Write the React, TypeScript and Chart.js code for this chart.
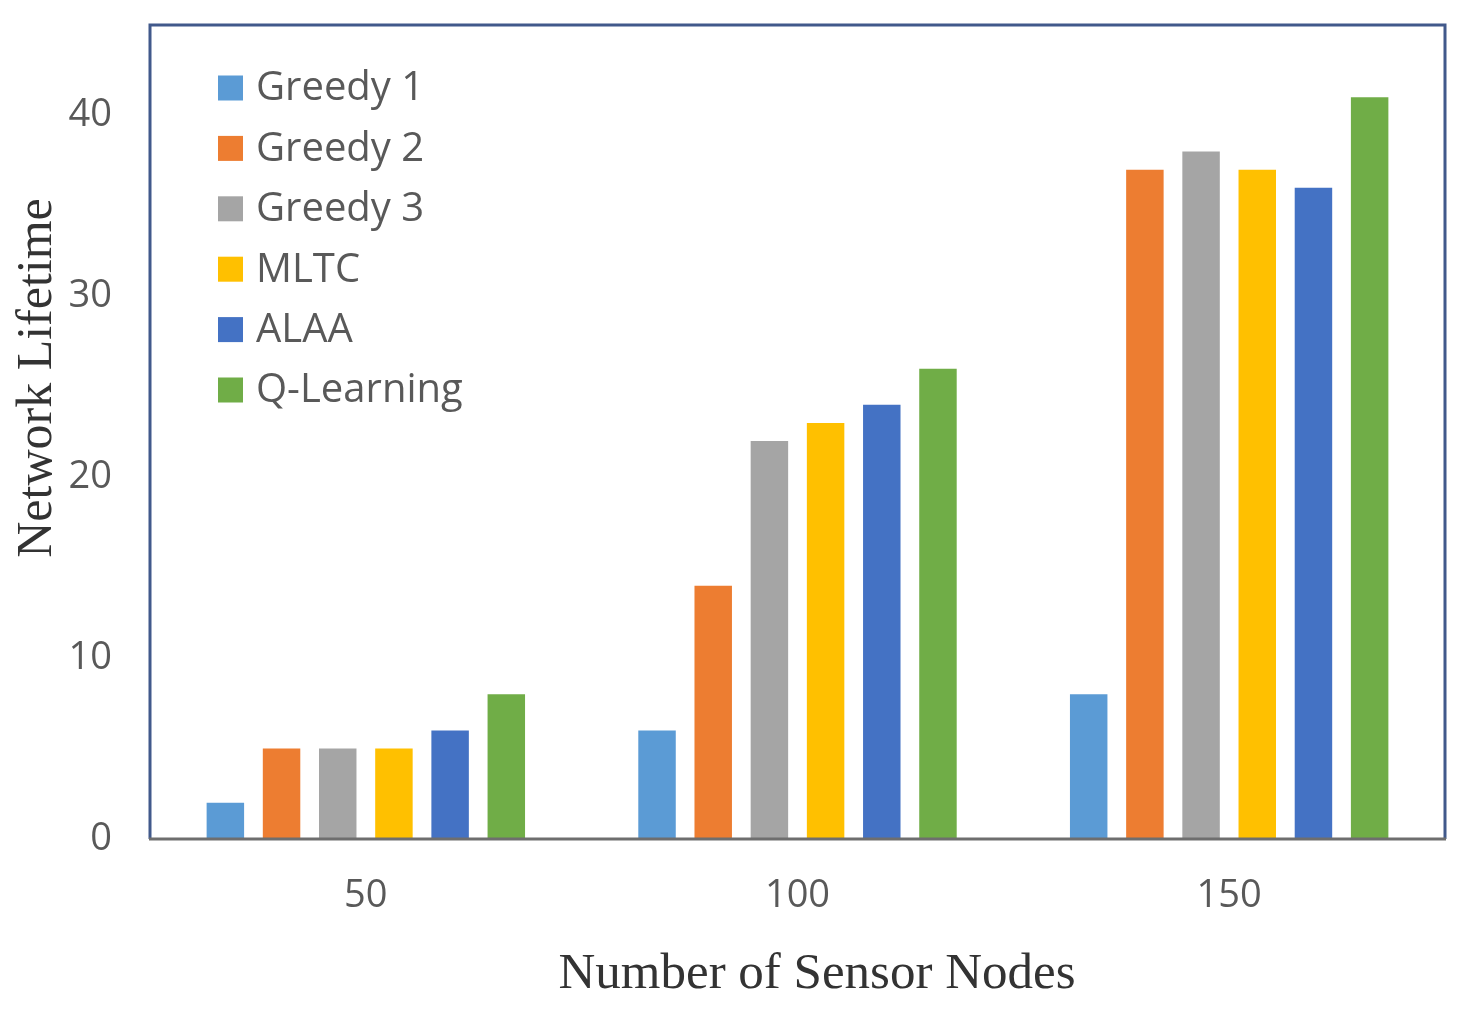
import React, { useEffect, useRef } from "react";
import { Chart, registerables } from "chart.js";

Chart.register(...registerables);

const categories = ["50", "100", "150"];
const seriesNames = ["Greedy 1", "Greedy 2", "Greedy 3", "MLTC", "ALAA", "Q-Learning"];
const greedy1 = [2, 6, 8];
const greedy2 = [5, 14, 37];
const greedy3 = [5, 22, 38];
const mltc = [5, 23, 37];
const alaa = [6, 24, 36];
const qLearning = [8, 26, 41];
const seriesColors = ["#5B9BD5", "#ED7D31", "#A5A5A5", "#FFC000", "#4472C4", "#70AD47"];
const yTicks = [0, 10, 20, 30, 40];
const yTitle = "Network Lifetime";
const xTitle = "Number of Sensor Nodes";

const TICK_FONT = "'Open Sans', Lato, sans-serif";
const SERIF = "'Liberation Serif', 'DejaVu Serif', serif";

const decorPlugin = {
  id: "decor",
  afterDatasetsDraw(chart: any) {
    const { ctx, chartArea } = chart;
    const { left, right, top, bottom } = chartArea;
    ctx.save();
    ctx.strokeStyle = "#41598B";
    ctx.lineWidth = 3;
    ctx.beginPath();
    ctx.moveTo(left, bottom);
    ctx.lineTo(left, top);
    ctx.lineTo(right, top);
    ctx.lineTo(right, bottom);
    ctx.stroke();
    ctx.strokeStyle = "#6E6E6E";
    ctx.lineWidth = 3;
    ctx.beginPath();
    ctx.moveTo(left - 1, bottom);
    ctx.lineTo(right + 1, bottom);
    ctx.stroke();

    ctx.font = `40px ${TICK_FONT}`;
    ctx.textBaseline = "middle";
    ctx.textAlign = "left";
    chart.data.datasets.forEach((ds: any, i: number) => {
      const cy = 88 + i * 60.4;
      ctx.fillStyle = ds.backgroundColor;
      ctx.fillRect(218, cy - 12.5, 25, 25);
      ctx.fillStyle = "#595959";
      ctx.fillText(ds.label, 256, cy + 1);
    });

    ctx.fillStyle = "#333333";
    ctx.font = `50px ${SERIF}`;
    ctx.textAlign = "center";
    ctx.textBaseline = "middle";
    ctx.save();
    ctx.translate(38, 378);
    ctx.rotate(-Math.PI / 2);
    ctx.fillText(yTitle, 0, 0);
    ctx.restore();
    ctx.font = `51px ${SERIF}`;
    ctx.fillText(xTitle, 817, 975);
    ctx.restore();
  },
};

export default function App() {
  const ref = useRef<HTMLCanvasElement>(null);
  useEffect(() => {
    document.body.style.margin = "0";
    const values = [greedy1, greedy2, greedy3, mltc, alaa, qLearning];
    const chart = new Chart(ref.current as HTMLCanvasElement, {
      type: "bar",
      data: {
        labels: categories,
        datasets: seriesNames.map((name, i) => ({
          label: name,
          data: values[i],
          backgroundColor: seriesColors[i],
          borderWidth: 0,
          categoryPercentage: 0.781,
          barPercentage: 0.667,
        })),
      },
      options: {
        animation: false,
        responsive: false,
        maintainAspectRatio: false,
        layout: { padding: { left: 0, top: 25, right: 29, bottom: 0 } },
        plugins: { legend: { display: false }, tooltip: { enabled: false } },
        scales: {
          x: {
            grid: { display: false, drawTicks: false },
            border: { display: false },
            ticks: { color: "#595959", font: { size: 38, family: TICK_FONT }, padding: 34 },
            afterFit: (s: any) => {
              s.height = 184;
              s.paddingLeft = 0;
              s.paddingRight = 0;
            },
          },
          y: {
            min: 0,
            max: 45,
            grid: { display: false, drawTicks: false },
            border: { display: false },
            afterBuildTicks: (s: any) => { s.ticks = yTicks.map((v) => ({ value: v })); },
            ticks: { color: "#595959", font: { size: 38, family: TICK_FONT }, padding: 38 },
            afterFit: (s: any) => {
              s.width = 150;
              s.paddingTop = 0;
              s.paddingBottom = 0;
            },
          },
        },
      },
      plugins: [decorPlugin],
    });
    return () => chart.destroy();
  }, []);
  return (
    <div style={{ position: "absolute", left: 0, top: 0, width: 1474, height: 1023, background: "#fff" }}>
      <canvas ref={ref} width={1474} height={1023} style={{ width: 1474, height: 1023 }} />
    </div>
  );
}
